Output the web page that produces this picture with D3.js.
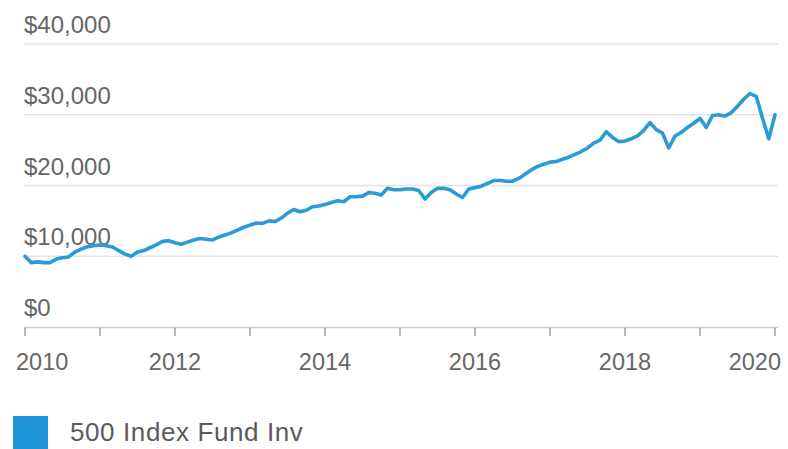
<!DOCTYPE html>
<html>
<head>
<meta charset="utf-8">
<script src="https://d3js.org/d3.v7.min.js"></script>
<style>
  body { margin: 0; background: #fff; }
  text { font-family: "Liberation Sans", Arial, sans-serif; }
</style>
</head>
<body>
<svg id="chart"></svg>
<script>
  // growth of $10,000, monthly from Jan 2010 to Jan 2020 (values in $)
  var startYear = 2010;
  var values = [
    10000, 9100, 9200, 9100, 9100, 9600, 9800, 9900, 10600, 11000, 11350, 11500,
    11600, 11500, 11300, 10800, 10300, 10000, 10600, 10800, 11200, 11600, 12100, 12200,
    11900, 11700, 12000, 12300, 12500, 12400, 12300, 12700, 13000, 13300, 13700, 14100,
    14400, 14700, 14650, 15000, 14900, 15400, 16100, 16600, 16300, 16500, 17000, 17100,
    17300, 17600, 17850, 17700, 18400, 18400, 18500, 19000, 18900, 18650, 19600, 19400,
    19400, 19500, 19500, 19300, 18100, 19000, 19600, 19600, 19400, 18800, 18300, 19500,
    19700, 19900, 20300, 20700, 20700, 20600, 20600, 21000, 21600, 22200, 22700, 23000,
    23300, 23400, 23700, 24000, 24400, 24800, 25300, 26000, 26400, 27600, 26800, 26200,
    26300, 26600, 27000, 27800, 28900, 27900, 27400, 25300, 27000, 27500, 28200, 28800,
    29500, 28200, 29900, 30000, 29800, 30300, 31200, 32200, 33000, 32600, 29500, 26600,
    30000
  ];
  var yTicks = [0, 10000, 20000, 30000, 40000];
  var yearTicks = [2010, 2011, 2012, 2013, 2014, 2015, 2016, 2017, 2018, 2019, 2020];
  var yearLabels = [2010, 2012, 2014, 2016, 2018, 2020];
  var seriesName = "500 Index Fund Inv";

  var width = 788, height = 449;
  var lineColor = "#2b9bd8";

  var svg = d3.select("#chart").attr("width", width).attr("height", height);

  var x = d3.scaleLinear().domain([2010, 2020]).range([25, 775]);
  var y = d3.scaleLinear().domain([0, 40000]).range([327, 44]);

  // gridlines (skip 0, that is the axis line)
  svg.selectAll(".grid")
    .data(yTicks.filter(function(d) { return d > 0; }))
    .enter().append("line")
    .attr("x1", 24).attr("x2", 778)
    .attr("y1", function(d) { return y(d); })
    .attr("y2", function(d) { return y(d); })
    .attr("stroke", "#e3e3e3")
    .attr("stroke-width", 1.6);

  // y labels sit above their gridline
  svg.selectAll(".ylab")
    .data(yTicks)
    .enter().append("text")
    .attr("x", 24)
    .attr("y", function(d) { return y(d) - 11; })
    .attr("font-size", 24)
    .attr("fill", "#666")
    .text(function(d) { return d3.format("$,")(d); });

  // x axis line + year ticks
  svg.append("line")
    .attr("x1", 24).attr("x2", 778)
    .attr("y1", y(0) + 0.5).attr("y2", y(0) + 0.5)
    .attr("stroke", "#cfcfcf")
    .attr("stroke-width", 1.6);

  svg.selectAll(".tick")
    .data(yearTicks)
    .enter().append("line")
    .attr("x1", function(d) { return x(d); })
    .attr("x2", function(d) { return x(d); })
    .attr("y1", y(0) + 0.5).attr("y2", y(0) + 9)
    .attr("stroke", "#a8a8a8")
    .attr("stroke-width", 1.6);

  // year labels, kept inside the plot edges
  svg.selectAll(".xlab")
    .data(yearLabels)
    .enter().append("text")
    .attr("y", 370)
    .attr("font-size", 23.5)
    .attr("fill", "#666")
    .text(function(d) { return d; })
    .each(function(d) {
      var w = this.getComputedTextLength();
      var left = x(d) - w / 2;
      left = Math.max(16, Math.min(781 - w, left));
      d3.select(this).attr("x", left);
    });

  // the line
  var line = d3.line()
    .x(function(d, i) { return x(startYear + i / 12); })
    .y(function(d) { return y(d); })
    .curve(d3.curveLinear);

  svg.append("path")
    .datum(values)
    .attr("d", line)
    .attr("fill", "none")
    .attr("stroke", lineColor)
    .attr("stroke-width", 3.6)
    .attr("stroke-linejoin", "round")
    .attr("stroke-linecap", "round");

  // legend
  svg.append("rect")
    .attr("x", 13).attr("y", 416)
    .attr("width", 35).attr("height", 35)
    .attr("fill", "#1e96d8");

  svg.append("text")
    .attr("x", 70).attr("y", 441)
    .attr("font-size", 26)
    .attr("letter-spacing", 0.6)
    .attr("fill", "#5a5a5a")
    .text(seriesName);
</script>
</body>
</html>
